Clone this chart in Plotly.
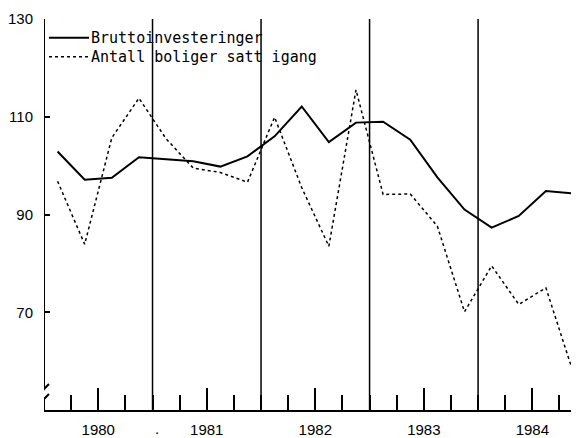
import plotly.graph_objects as go

# --- Data (kvartalstall, indeks) ---
aar = [1980, 1981, 1982, 1983, 1984]
kvartaler = [1, 2, 3, 4]

bruttoinvesteringer = [102.9, 97.1, 97.5, 101.7, 101.3, 100.9, 99.8, 101.9,
                       106.0, 112.1, 104.8, 108.8, 109.0, 105.3, 97.6, 91.0,
                       87.3, 89.7, 94.8, 94.3]
boliger_satt_igang = [96.8, 83.9, 105.7, 113.8, 105.5, 99.5, 98.6, 96.6,
                      109.9, 95.5, 83.5, 115.5, 94.1, 94.2, 87.6, 70.1,
                      79.5, 71.6, 75.0, 57.8]

serier = ["Bruttoinvesteringer", "Antall boliger satt igang"]
y_ticks = [70, 90, 110, 130]

# kvartal plassert midt i kvartalet
x = [a + (k - 0.5) / 4 for a in aar for k in kvartaler]

stil = [dict(color="black", width=2), dict(color="black", width=1.5, dash="dot")]

fig = go.Figure()
for navn, verdier, linje in zip(serier, [bruttoinvesteringer, boliger_satt_igang], stil):
    fig.add_trace(go.Scatter(x=x, y=verdier, mode="lines", name=navn, line=linje))

# egen tegnforklaring (linje + tekst)
for i, (navn, linje) in enumerate(zip(serier, stil)):
    dy = -18.7 - 19 * i
    fig.add_shape(type="line", xref="paper", yref="paper", xsizemode="pixel",
                  ysizemode="pixel", xanchor=0, yanchor=1, x0=5, x1=45, y0=dy, y1=dy,
                  line=linje)
    fig.add_annotation(x=0, y=1, xref="paper", yref="paper", xshift=45, yshift=dy,
                       xanchor="left", yanchor="middle", text=navn, showarrow=False,
                       font=dict(family="DejaVu Sans Mono", size=15, color="black"))

# vertikale linjer ved årsskifte
for a in aar[1:]:
    fig.add_shape(type="line", xref="x", yref="y", x0=a, x1=a, y0=50, y1=130,
                  line=dict(color="black", width=1.5), layer="below")

# y-akse med brudd
fig.add_shape(type="line", xref="x", yref="y", x0=1980, x1=1980, y0=54.3, y1=130,
              line=dict(color="black", width=2))
fig.add_shape(type="line", xref="x", yref="y", x0=1980, x1=1980, y0=50, y1=52.2,
              line=dict(color="black", width=2))
for off in (11, 21):
    fig.add_shape(type="line", xref="x", yref="y", xsizemode="pixel", ysizemode="pixel",
                  xanchor=1980, yanchor=50, x0=-5, x1=5, y0=off - 5, y1=off + 5,
                  line=dict(color="black", width=2))

fig.add_annotation(x=1981.04, y=0, xref="x", yref="paper", text=".",
                   showarrow=False, yanchor="top", yshift=-8,
                   font=dict(family="Liberation Sans", size=15, color="black"))

# siden har 8 px marg rundt figuren
fig.update_layout(
    width=571, height=430,
    margin=dict(l=35, r=0, t=11, b=26),
    paper_bgcolor="white", plot_bgcolor="white",
    showlegend=False,
    xaxis=dict(range=[1980, 1984.93], showgrid=False, zeroline=False,
               showline=True, linecolor="black", linewidth=2,
               tickmode="array", tickvals=[a + 0.5 for a in aar],
               ticktext=[str(a) for a in aar],
               ticks="inside", ticklen=22, tickwidth=1.5, tickcolor="black",
               ticklabelstandoff=5,
               minor=dict(tickmode="linear", tick0=1980, dtick=0.25,
                          ticks="inside", ticklen=15, tickwidth=1.5,
                          tickcolor="black", showgrid=False),
               tickfont=dict(family="Liberation Sans", size=15, color="black")),
    yaxis=dict(range=[50, 130], showgrid=False, zeroline=False, showline=False,
               tickmode="array", tickvals=y_ticks,
               ticks="inside", ticklen=6, tickwidth=2, tickcolor="black",
               ticklabelstandoff=10,
               tickfont=dict(family="Liberation Sans", size=15, color="black")),
)

fig.write_html("out.html")
